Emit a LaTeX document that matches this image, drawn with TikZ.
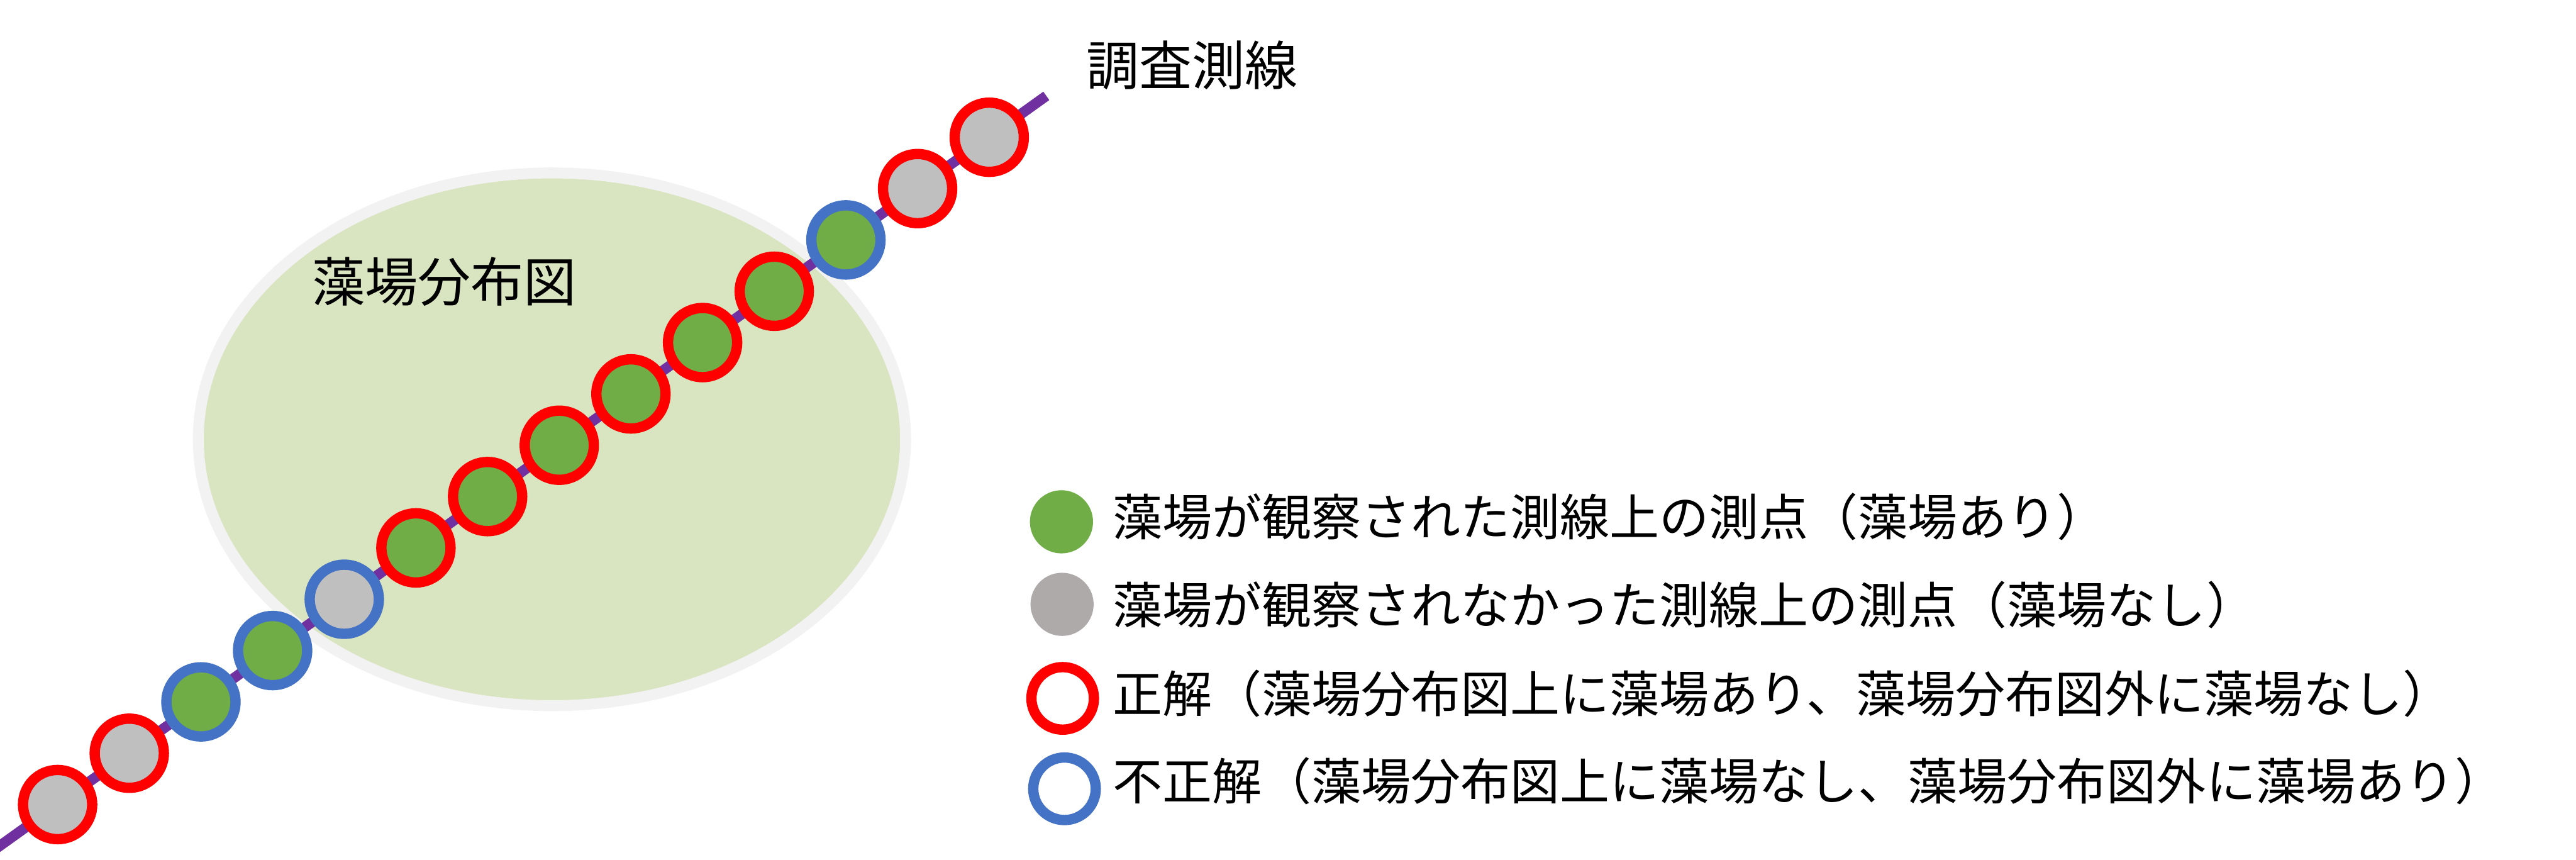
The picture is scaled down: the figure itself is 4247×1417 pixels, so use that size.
\documentclass[tikz,border=0pt]{standalone}
\usepackage{fontspec}
\setmainfont{Noto Sans CJK JP}
\usetikzlibrary{positioning}
\definecolor{svInk}{HTML}{000000}
\definecolor{svPurple}{HTML}{7030A0}
\definecolor{svRed}{HTML}{FF0000}
\definecolor{svBlue}{HTML}{4472C4}
\definecolor{svGreen}{HTML}{70AD47}
\definecolor{svGray}{HTML}{BFBFBF}
\definecolor{svKeyGray}{HTML}{AEAAAA}
\definecolor{svArea}{HTML}{D9E4C0}
\definecolor{svAreaRim}{HTML}{F2F2F2}
\tikzset{
  every picture/.style={font=\fontsize{23.3pt}{28pt}\selectfont, text=svInk},
  sv area/.style={fill=svArea, draw=svAreaRim, line width=0.18cm},
  sv line/.style={draw=svPurple, line width=0.17cm, line cap=butt},
  sv station/.style={circle, inner sep=0pt, minimum size=1.14cm, line width=0.17cm},
  sv key dot/.style={circle, inner sep=0pt, minimum size=1.04cm},
  sv key ring/.style={circle, inner sep=0pt, minimum size=1.03cm, line width=0.17cm, fill=white},
  sv key text/.style={anchor=base west, inner sep=0pt},
  sv title/.style={anchor=base west, inner sep=0pt, font=\fontsize{24.8pt}{30pt}\selectfont}
}

\begin{document}
\begin{tikzpicture}[x=0.01cm,y=-0.01cm]
  \useasboundingbox (0,0) rectangle (4247,1417);
  % seagrass map
  \draw[sv area] (910,724) ellipse[x radius=583, y radius=439];
  \node[sv title] (mapLabel) at (514,497) {藻場分布図};
  % survey line and stations
  \coordinate (lineS) at (-10,1401);
  \coordinate (lineE) at (1725,158);
  \draw[sv line] (lineS) -- (lineE);
  \node[sv title] (lineLabel) at (1790,141) {調査測線};
  \foreach \i/\dotc/\ringc in {0/svGray/svRed, 1/svGray/svRed, 2/svGreen/svBlue,
      3/svGreen/svBlue, 4/svGray/svBlue, 5/svGreen/svRed, 6/svGreen/svRed,
      7/svGreen/svRed, 8/svGreen/svRed, 9/svGreen/svRed, 10/svGreen/svRed,
      11/svGreen/svBlue, 12/svGray/svRed, 13/svGray/svRed}
    \node[sv station, fill=\dotc, draw=\ringc] (st\i) at ({95+118.15*\i},{1326-84.6*\i}) {};
  % legend
  \node[sv key dot, fill=svGreen] (keyFound) at (1750,860) {};
  \node[sv key dot, fill=svKeyGray] (keyNone) at (1751,996) {};
  \node[sv key ring, draw=svRed] (keyRight) at (1752,1151) {};
  \node[sv key ring, draw=svBlue] (keyWrong) at (1755,1300) {};
  \node[sv key text] (txtFound) at (1834,883) {藻場が観察された測線上の測点（藻場あり）};
  \node[sv key text] (txtNone) at (1834,1028) {藻場が観察されなかった測線上の測点（藻場なし）};
  \node[sv key text] (txtRight) at (1834,1174) {正解（藻場分布図上に藻場あり、藻場分布図外に藻場なし）};
  \node[sv key text] (txtWrong) at (1834,1318) {不正解（藻場分布図上に藻場なし、藻場分布図外に藻場あり）};
\end{tikzpicture}
\end{document}
